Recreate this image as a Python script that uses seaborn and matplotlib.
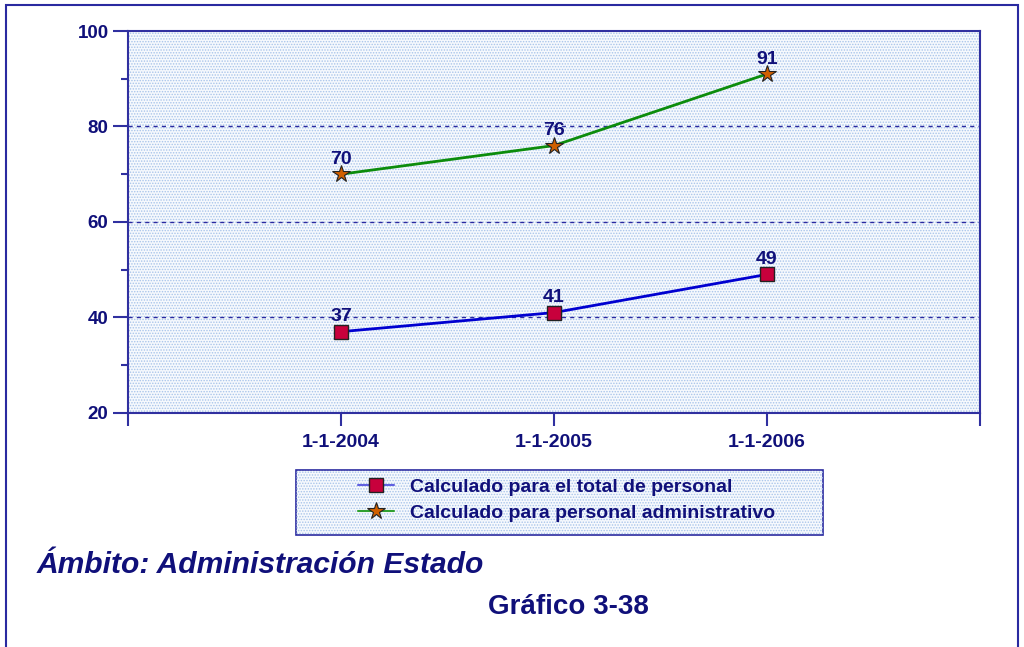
import matplotlib
matplotlib.use("Agg")
import matplotlib.pyplot as plt
from matplotlib.patches import Rectangle
from matplotlib.lines import Line2D
import seaborn as sns
import pandas as pd

# Data
fechas = ["1-1-2004", "1-1-2005", "1-1-2006"]
total_personal = [37, 41, 49]
personal_admin = [70, 76, 91]
serie_total = "Calculado para el total de personal"
serie_admin = "Calculado para personal administrativo"
y_ticks = [20, 40, 60, 80, 100]

sns.set_style("white")
plt.rcParams["font.family"] = ["Liberation Sans", "DejaVu Sans"]
plt.rcParams["hatch.linewidth"] = 0.7
navy = "#10107a"
frame_col = "#2a2aa0"
dots_col = "#a8c4ea"

fig = plt.figure(figsize=(10.24, 6.47), dpi=100)
ax = fig.add_axes([0.125, 0.362, 0.832, 0.590])

pos = list(range(1, len(fechas) + 1))
df = pd.DataFrame({
    "pos": pos * 2,
    "valor": total_personal + personal_admin,
    "serie": [serie_total] * len(pos) + [serie_admin] * len(pos),
})

# plot background with a fine dotted texture
ax.set_facecolor("#f6f9fd")
ax.add_patch(Rectangle((0, 0), 1, 1, transform=ax.transAxes, facecolor="none",
                       edgecolor=dots_col, hatch="......", linewidth=0, zorder=0))

sns.lineplot(data=df[df.serie == serie_total], x="pos", y="valor", ax=ax,
             color="#0000d0", linewidth=2, marker="s", markersize=10,
             markerfacecolor="#c8003c", markeredgecolor="#222222",
             markeredgewidth=1, legend=False, zorder=3)
sns.lineplot(data=df[df.serie == serie_admin], x="pos", y="valor", ax=ax,
             color="#0c8c0c", linewidth=2, marker="*", markersize=13,
             markerfacecolor="#d06000", markeredgecolor="#222222",
             markeredgewidth=0.8, legend=False, zorder=3)

for serie in (total_personal, personal_admin):
    for x, v in zip(pos, serie):
        ax.annotate(str(v), (x, v), xytext=(0, 4.5), textcoords="offset points",
                    ha="center", va="bottom", fontsize=14, fontweight="bold",
                    color=navy, zorder=4)

ax.set_xlim(0, 4)
ax.set_ylim(20, 100)
ax.set_xticks([0] + pos + [4])
ax.set_xticklabels([""] + fechas + [""])
ax.set_yticks(y_ticks)
ax.set_yticks([30, 50, 70, 90], minor=True)
ax.set_xlabel("")
ax.set_ylabel("")

for y in [40, 60, 80]:
    ax.axhline(y, color=frame_col, linestyle=(0, (3, 3)), linewidth=1, zorder=1)

for side in ["left", "bottom", "right", "top"]:
    ax.spines[side].set_color("#3030a0")
    ax.spines[side].set_linewidth(1.5)
ax.tick_params(axis="y", which="major", direction="out", length=11, width=1.5,
               color="#3030a0", labelsize=13.5, labelcolor=navy, left=True, pad=3)
ax.tick_params(axis="y", which="minor", direction="out", length=5, width=1.5,
               color="#3030a0", left=True)
ax.tick_params(axis="x", which="major", direction="out", length=9, width=1.5,
               color="#3030a0", labelsize=14, labelcolor=navy, bottom=True, pad=6)
for lbl in ax.get_xticklabels() + ax.get_yticklabels():
    lbl.set_fontweight("bold")

# legend box
fig.patches.append(Rectangle((0.289, 0.1731), 0.5146, 0.1005, transform=fig.transFigure,
                             facecolor="#f6f9fd", edgecolor=frame_col, linewidth=1.2,
                             zorder=1))
fig.patches.append(Rectangle((0.289, 0.1731), 0.5146, 0.1005, transform=fig.transFigure,
                             facecolor="none", edgecolor=dots_col, hatch="......",
                             linewidth=0, zorder=1.5))
handles = [
    Line2D([], [], color="#6060e0", linewidth=1.5, marker="s", markersize=10,
           markerfacecolor="#c8003c", markeredgecolor="#222222"),
    Line2D([], [], color="#30a030", linewidth=1.5, marker="*", markersize=13,
           markerfacecolor="#d06000", markeredgecolor="#222222", markeredgewidth=0.8),
]
leg = fig.legend(handles, [serie_total, serie_admin], loc="center left",
                 bbox_to_anchor=(0.3496, 0.2272), bbox_transform=fig.transFigure,
                 frameon=False, handlelength=1.85, borderpad=0, borderaxespad=0,
                 labelspacing=0.45, handletextpad=0.82,
                 prop={"size": 14, "weight": "bold"})
for t in leg.get_texts():
    t.set_color(navy)

fig.text(0.036, 0.127, "Ámbito: Administración Estado", fontsize=21.6,
         fontweight="bold", fontstyle="italic", color=navy, va="center")
fig.text(0.555, 0.062, "Gráfico 3-38", fontsize=20, fontweight="bold",
         color=navy, va="center", ha="center")

# outer frame around the whole chart
fig.patches.append(Rectangle((0.006, -0.05), 0.988, 1.043, transform=fig.transFigure,
                             fill=False, edgecolor=frame_col, linewidth=1.5))

fig.savefig("out.png", dpi=100)
